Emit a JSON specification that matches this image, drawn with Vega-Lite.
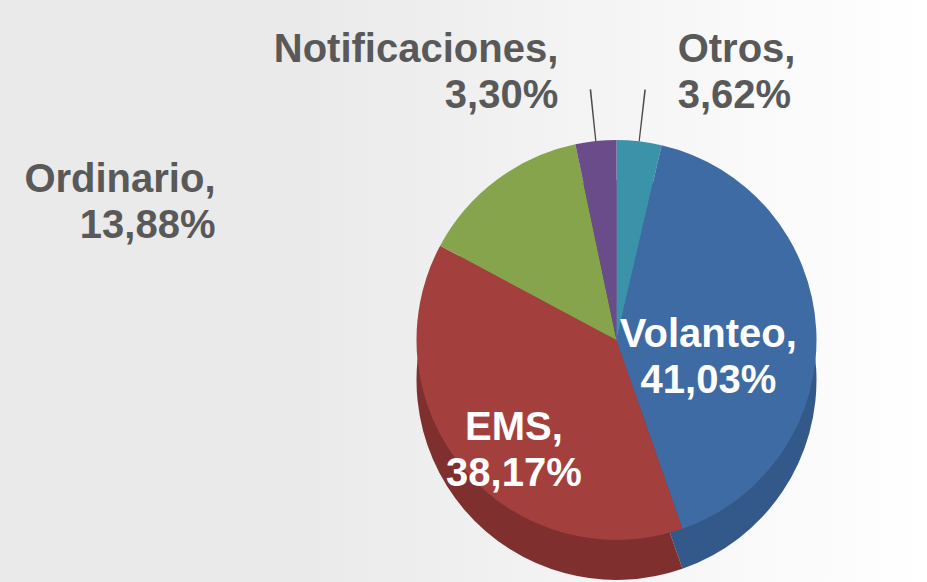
{
  "$schema": "https://vega.github.io/schema/vega-lite/v6.json",
  "autosize": {"type": "none"},
  "width": 621,
  "height": 680,
  "padding": {"left": 306, "top": 0, "right": 0, "bottom": 0},
  "background": "#eaeaea",
  "view": {
    "stroke": null,
    "fill": {
      "gradient": "linear",
      "x1": 0, "y1": 0, "x2": 1, "y2": 0,
      "stops": [
        {"offset": 0, "color": "#eaeaea"},
        {"offset": 0.6, "color": "#f7f7f7"},
        {"offset": 1, "color": "#ffffff"}
      ]
    }
  },
  "config": {
    "text": {"font": "Liberation Sans", "fontWeight": "bold", "fontSize": 40, "lineBreak": "\n", "lineHeight": 46}
  },
  "data": {
    "values": [
      {"idx": 1, "cat": "Otros", "value": 3.62, "label": "Otros,\n3,62%"},
      {"idx": 2, "cat": "Volanteo", "value": 41.03, "label": "Volanteo,\n41,03%"},
      {"idx": 3, "cat": "EMS", "value": 38.17, "label": "EMS,\n38,17%"},
      {"idx": 4, "cat": "Ordinario", "value": 13.88, "label": "Ordinario,\n13,88%"},
      {"idx": 5, "cat": "Notificaciones", "value": 3.30, "label": "Notificaciones,\n3,30%"}
    ]
  },
  "transform": [
    {"stack": "value", "groupby": [], "as": ["t0", "t1"], "sort": [{"field": "idx", "order": "ascending"}]},
    {"calculate": "(datum.t0 + datum.t1) / 2", "as": "tm"}
  ],
  "layer": [
    {
      "mark": {"type": "arc", "outerRadius": 200, "yOffset": 40},
      "encoding": {
        "theta": {"field": "t0", "type": "quantitative", "scale": {"domain": [0, 100]}},
        "theta2": {"field": "t1"},
        "color": {
          "field": "cat", "type": "nominal", "legend": null,
          "scale": {
            "domain": ["Otros", "Volanteo", "EMS", "Ordinario", "Notificaciones"],
            "range": ["#2d7384", "#33598a", "#7f2f2e", "#66803a", "#513a6b"]
          }
        }
      }
    },
    {
      "mark": {"type": "arc", "outerRadius": 200},
      "encoding": {
        "theta": {"field": "t0", "type": "quantitative", "scale": {"domain": [0, 100]}},
        "theta2": {"field": "t1"},
        "color": {
          "field": "cat", "type": "nominal", "legend": null,
          "scale": {
            "domain": ["Otros", "Volanteo", "EMS", "Ordinario", "Notificaciones"],
            "range": ["#3a93a8", "#3e6ba3", "#a3403d", "#86a44b", "#6a4c8b"]
          }
        }
      }
    },
    {
      "transform": [
        {"filter": "datum.cat === 'Otros' || datum.cat === 'Notificaciones'"},
        {"calculate": "datum.tm - 0.05", "as": "la"},
        {"calculate": "datum.tm + 0.05", "as": "lb"}
      ],
      "mark": {"type": "arc", "innerRadius": 200, "outerRadius": 252, "color": "#4a4a4a"},
      "encoding": {
        "theta": {"field": "la", "type": "quantitative", "scale": {"domain": [0, 100]}},
        "theta2": {"field": "lb"}
      }
    },
    {
      "transform": [{"filter": "datum.cat === 'Volanteo'"}],
      "mark": {"type": "text", "radius": 92, "align": "center", "baseline": "middle", "color": "#ffffff"},
      "encoding": {
        "theta": {"field": "tm", "type": "quantitative", "scale": {"domain": [0, 100]}},
        "text": {"field": "label"}
      }
    },
    {
      "transform": [{"filter": "datum.cat === 'EMS'"}],
      "mark": {"type": "text", "radius": 135, "align": "center", "baseline": "middle", "color": "#ffffff"},
      "encoding": {
        "theta": {"field": "tm", "type": "quantitative", "scale": {"domain": [0, 100]}},
        "text": {"field": "label"}
      }
    },
    {
      "transform": [{"filter": "datum.cat === 'Notificaciones'"}],
      "mark": {"type": "text", "radius": 292, "align": "right", "baseline": "middle", "color": "#595959", "dx": -28},
      "encoding": {
        "theta": {"field": "tm", "type": "quantitative", "scale": {"domain": [0, 100]}},
        "text": {"field": "label"}
      }
    },
    {
      "transform": [{"filter": "datum.cat === 'Otros'"}],
      "mark": {"type": "text", "radius": 292, "align": "left", "baseline": "middle", "color": "#595959", "dx": 28},
      "encoding": {
        "theta": {"field": "tm", "type": "quantitative", "scale": {"domain": [0, 100]}},
        "text": {"field": "label"}
      }
    },
    {
      "transform": [{"filter": "datum.cat === 'Ordinario'"}],
      "mark": {"type": "text", "radius": 260, "align": "right", "baseline": "middle", "color": "#595959", "dx": -245, "dy": 48},
      "encoding": {
        "theta": {"field": "tm", "type": "quantitative", "scale": {"domain": [0, 100]}},
        "text": {"field": "label"}
      }
    }
  ],
  "resolve": {"scale": {"color": "independent"}}
}
